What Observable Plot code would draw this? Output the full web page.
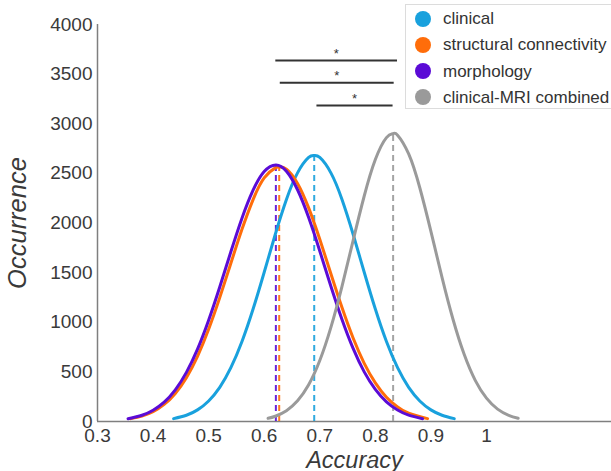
<!DOCTYPE html>
<html>
<head>
<meta charset="utf-8">
<script src="https://cdn.jsdelivr.net/npm/d3@7"></script>
<script src="https://cdn.jsdelivr.net/npm/@observablehq/plot@0.6"></script>
<style>
  html, body { margin: 0; padding: 0; background: #fff; overflow: hidden; }
  #wrap { position: relative; width: 611px; height: 471px; overflow: hidden; font-family: "Liberation Sans", Arial, sans-serif; }
  #legend { position: absolute; left: 405px; top: 4px; width: 240px; height: 105px; border: 1px solid #dcdcdc; background: #fff; box-sizing: border-box; }
  .row { position: absolute; left: 0; height: 26px; line-height: 26px; font-size: 17px; color: #333; white-space: nowrap; }
  .dot { position: absolute; left: 8.5px; top: 4.5px; width: 16px; height: 16px; border-radius: 50%; }
  .lbl { position: absolute; left: 37px; top: 0; }
</style>
</head>
<body>
<div id="wrap"><div id="legend"></div></div>
<script>
// ---- data ----
const seriesNames = ["clinical", "structural connectivity", "morphology", "clinical-MRI combined"];
const seriesColors = ["#19A1DD", "#FF6D0A", "#5B0BD6", "#9A9A9A"];

const accClinical = [0.437,0.46,0.48,0.50,0.52,0.54,0.56,0.58,0.60,0.62,0.64,0.66,0.68,0.69,0.70,0.72,0.74,0.76,0.78,0.80,0.82,0.84,0.86,0.88,0.90,0.92,0.942];
const occClinical = [29,63,117,207,344,542,806,1133,1504,1887,2237,2505,2660,2680,2660,2505,2237,1887,1504,1133,806,542,344,207,117,63,29];

const accStructural = [0.36,0.38,0.40,0.42,0.44,0.46,0.48,0.50,0.52,0.54,0.56,0.58,0.60,0.62,0.627,0.64,0.66,0.68,0.70,0.72,0.74,0.76,0.78,0.80,0.82,0.84,0.86,0.894];
const occStructural = [29,55,99,172,283,442,657,929,1248,1594,1936,2236,2454,2555,2563,2543,2399,2152,1836,1489,1148,841,586,389,245,147,83,29];

const accMorphology = [0.355,0.38,0.40,0.42,0.44,0.46,0.48,0.50,0.52,0.54,0.56,0.58,0.60,0.621,0.64,0.66,0.68,0.70,0.72,0.74,0.76,0.78,0.80,0.82,0.84,0.86,0.885];
const occMorphology = [28,63,114,195,319,495,729,1020,1355,1710,2049,2331,2519,2585,2522,2335,2055,1718,1363,1028,736,500,323,198,116,64,28];

const accCombined = [0.607,0.62,0.64,0.66,0.68,0.70,0.72,0.74,0.76,0.78,0.80,0.82,0.832,0.84,0.86,0.88,0.90,0.92,0.94,0.96,0.98,1.00,1.02,1.04,1.057];
const occCombined = [32,53,109,208,370,614,948,1362,1823,2272,2639,2860,2900,2885,2696,2355,1916,1452,1025,674,412,235,125,62,32];

const meanAccuracy = [0.690, 0.627, 0.621, 0.832];
const peakOccurrence = [2680, 2563, 2585, 2900];

// significance bars: [from, to, level]
const sigFrom = [0.620, 0.628, 0.694];
const sigTo = [0.839, 0.833, 0.831];
const sigLevel = [3637, 3413, 3184];
const sigLabel = ["*", "*", "*"];

const xTicks = [0.3,0.4,0.5,0.6,0.7,0.8,0.9,1];
const xTickLabels = ["0.3","0.4","0.5","0.6","0.7","0.8","0.9","1"];
const yTicks = [0,500,1000,1500,2000,2500,3000,3500,4000];
const yTickLabels = ["0","500","1000","1500","2000","2500","3000","3500","4000"];

// ---- tables ----
const accs = [accClinical, accStructural, accMorphology, accCombined];
const occs = [occClinical, occStructural, occMorphology, occCombined];
const curveRows = [];
seriesNames.forEach((s, i) => accs[i].forEach((a, j) => curveRows.push({series: s, acc: a, occ: occs[i][j]})));
const meanRows = seriesNames.map((s, i) => ({series: s, mean: meanAccuracy[i], peak: peakOccurrence[i]}));
const sigRows = sigFrom.map((f, i) => ({x1: f, x2: sigTo[i], y: sigLevel[i], mid: (f + sigTo[i]) / 2, label: sigLabel[i]}));

const textColor = "#3a3a3a";
const axisColor = "#7f7f7f";

const chart = Plot.plot({
  width: 611,
  height: 471,
  marginLeft: 97,
  marginRight: 0,
  marginTop: 24,
  marginBottom: 50,
  style: {fontFamily: "Liberation Sans, Arial, sans-serif", fontSize: "19px", color: textColor, background: "transparent", overflow: "visible"},
  x: {domain: [0.3, 1.225]},
  y: {domain: [0, 4000]},
  color: {domain: seriesNames, range: seriesColors},
  marks: [
    Plot.axisX({ticks: xTicks, tickFormat: (d, i) => xTickLabels[i], tickSize: 0, tickPadding: 7, label: null, fontSize: 19, fill: textColor}),
    Plot.axisY({ticks: yTicks, tickFormat: (d, i) => yTickLabels[i], tickSize: 0, tickPadding: 5, label: null, fontSize: 19, fill: textColor}),
    Plot.ruleY([0], {stroke: axisColor, strokeWidth: 1.5}),
    Plot.ruleX([0.3], {y1: 0, y2: 4000, stroke: axisColor, strokeWidth: 1.5}),
    Plot.ruleX(meanRows, {x: "mean", y1: 0, y2: "peak", stroke: "series", strokeWidth: 2, strokeDasharray: "6,4", strokeOpacity: 0.9}),
    Plot.line(curveRows, {x: "acc", y: "occ", z: "series", stroke: "series", strokeWidth: 3, curve: "natural"}),
    Plot.link(sigRows, {x1: "x1", x2: "x2", y1: "y", y2: "y", stroke: "#333", strokeWidth: 2}),
    Plot.text(sigRows, {x: "mid", y: "y", text: "label", dy: -7, fontSize: 13, fill: "#333"}),
    Plot.text(["Accuracy"], {frameAnchor: "bottom", textAnchor: "middle", dy: 46, fontSize: 23.5, fontStyle: "italic", fill: textColor}),
    Plot.text(["Occurrence"], {frameAnchor: "left", textAnchor: "middle", dx: -80, dy: 0, rotate: -90, fontSize: 25.5, fontStyle: "italic", fill: textColor})
  ]
});

const wrap = document.getElementById("wrap");
wrap.insertBefore(chart, wrap.firstChild);

const legend = document.getElementById("legend");
seriesNames.forEach((s, i) => {
  const row = document.createElement("div");
  row.className = "row";
  row.style.top = (1 + i * 26.3) + "px";
  const dot = document.createElement("span");
  dot.className = "dot";
  dot.style.background = seriesColors[i];
  const lbl = document.createElement("span");
  lbl.className = "lbl";
  lbl.textContent = s;
  row.appendChild(dot);
  row.appendChild(lbl);
  legend.appendChild(row);
});
</script>
</body>
</html>
